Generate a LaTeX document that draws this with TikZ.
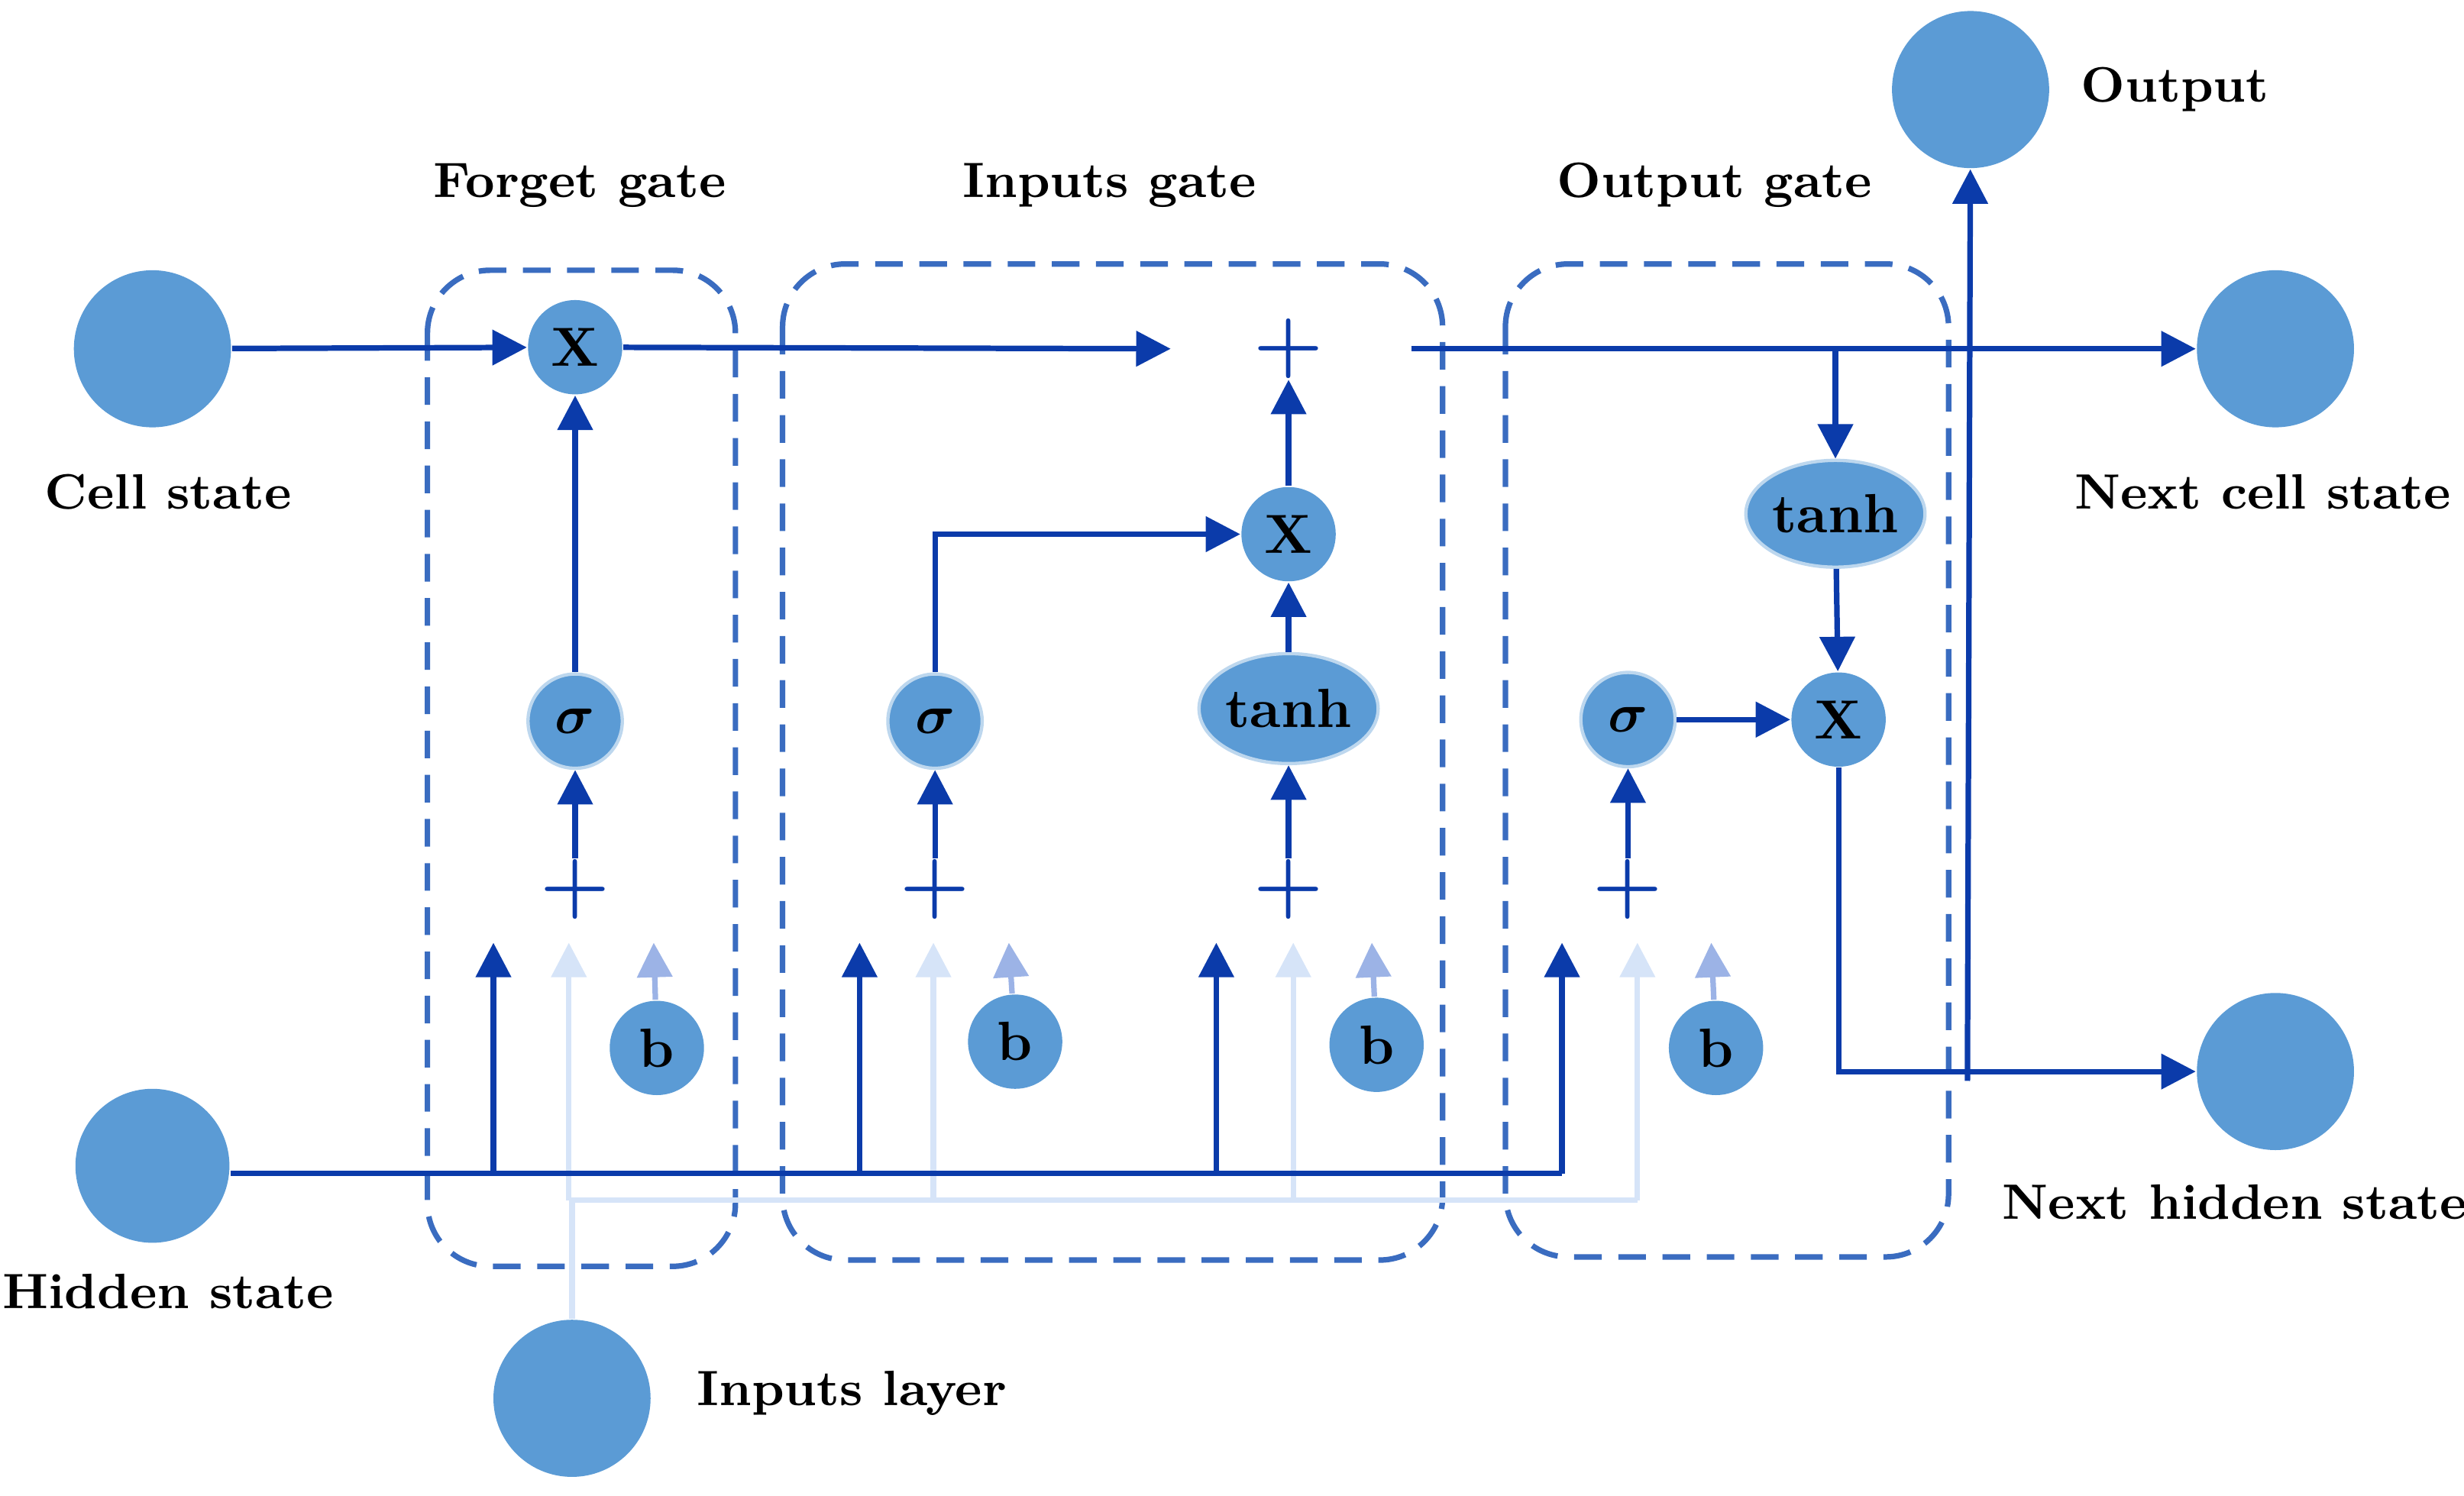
\documentclass[tikz,border=0pt]{standalone}
\usepackage{amsmath}
\usepackage{amssymb}
\usepackage{xcolor}
\usetikzlibrary{positioning,shapes.geometric,fit,arrows.meta}
\definecolor{cellblue}{HTML}{5B9BD5}
\definecolor{darkline}{HTML}{0B3BAA}
\definecolor{lightline}{HTML}{D6E4F8}
\definecolor{midline}{HTML}{9CB3E6}
\definecolor{boxline}{HTML}{3A6CC0}
\tikzset{
  unit/.style={circle,fill=cellblue,minimum size=#1,inner sep=0pt,font=\bfseries\fontsize{10}{12}\selectfont},
  unit/.default=6mm,
  act/.style={ellipse,fill=cellblue,draw=cellblue!40,line width=0.6pt,minimum width=11.4mm,minimum height=7mm,inner sep=0pt,font=\bfseries\fontsize{10}{12}\selectfont},
  lab/.style={font=\bfseries\fontsize{9}{11}\selectfont},
  gatebox/.style={draw=boxline,dashed,line width=1pt,rounded corners=4mm,dash pattern=on 5pt off 3pt},
  plus/.style={text=darkline,font=\Large\boldmath,inner sep=0pt},
  dk/.style={draw=darkline,line width=1pt,-{Triangle[length=2.2mm,width=2.2mm]}},
  lt/.style={draw=lightline,line width=1pt,-{Triangle[length=2.2mm,width=2.2mm]}},
  md/.style={draw=midline,line width=1pt,-{Triangle[length=2.2mm,width=2.2mm]}},
}
\begin{document}
\begin{tikzpicture}[x=0.1mm,y=-0.1mm]
  \useasboundingbox (0,0) rectangle (1568,952);

  % gate regions
  \draw[gatebox] (272,172) rectangle (468,806);
  \draw[gatebox] (498,168) rectangle (918,802);
  \draw[gatebox] (958,168) rectangle (1240,800);
  \node[lab] (tf) at (369,118) {Forget gate};
  \node[lab] (ti) at (706,118) {Inputs gate};
  \node[lab] (to) at (1091,118) {Output gate};

  % outer states
  \node[unit=10mm] (cs) at (97,222) {};
  \node[lab] (csl) at (107,313) {Cell state};
  \node[unit=9.8mm] (hs) at (97,742) {};
  \node[lab] (hsl) at (107,822) {Hidden state};
  \node[unit=10mm] (il) at (364,890) {};
  \node[lab] (ill) at (542,887) {Inputs layer};
  \node[unit=10mm] (out) at (1254,57) {};
  \node[lab] (outl) at (1384,57) {Output};
  \node[unit=10mm] (ncs) at (1448,222) {};
  \node[lab] (ncsl) at (1440,313) {Next cell state};
  \node[unit=10mm] (nhs) at (1448,682) {};
  \node[lab] (nhsl) at (1422,765) {Next hidden state};

  % forget gate
  \node[unit] (fx) at (366,221) {X};
  \node[unit,draw=cellblue!40,line width=0.6pt] (fs) at (366,459) {$\boldsymbol{\sigma}$};
  \node[plus] (fp) at (366,566) {$+$};
  \node[unit] (fb) at (418,667) {b};
  \coordinate (fh) at (314,600);
  \coordinate (fi) at (362,600);
  \coordinate (fbt) at (416,600);

  % inputs gate
  \node[unit,draw=cellblue!40,line width=0.6pt] (is) at (595,459) {$\boldsymbol{\sigma}$};
  \node[plus] (ip) at (595,566) {$+$};
  \node[unit] (ib) at (646,663) {b};
  \node[act] (it) at (820,451) {tanh};
  \node[plus] (ip2) at (820,566) {$+$};
  \node[unit] (ib2) at (876,665) {b};
  \node[unit] (ix) at (820,340) {X};
  \node[plus] (cp) at (820,222) {$+$};
  \coordinate (ih) at (547,600);
  \coordinate (ii) at (594,600);
  \coordinate (ibt) at (642,600);
  \coordinate (ih2) at (774,600);
  \coordinate (ii2) at (823,600);
  \coordinate (ibt2) at (873,600);

  % output gate
  \node[act,minimum height=6.8mm] (ot) at (1168,327) {tanh};
  \node[unit] (ox) at (1170,458) {X};
  \node[unit,draw=cellblue!40,line width=0.6pt] (os) at (1036,458) {$\boldsymbol{\sigma}$};
  \node[plus] (op) at (1036,566) {$+$};
  \node[unit] (ob) at (1092,667) {b};
  \coordinate (oh) at (994,600);
  \coordinate (oi) at (1042,600);
  \coordinate (obt) at (1089,600);

  % light input bus
  \draw[lightline,line width=1pt] (il.north) |- (1042,764);
  \draw[lt] (362,764) -- (fi);
  \draw[lt] (594,764) -- (ii);
  \draw[lt] (823,764) -- (ii2);
  \draw[lt] (1042,764) -- (oi);

  % hidden state bus
  \draw[darkline,line width=1pt] (hs.east |- 0,747) -- (994,747);
  \draw[dk] (314,747) -- (fh);
  \draw[dk] (547,747) -- (ih);
  \draw[dk] (774,747) -- (ih2);
  \draw[dk] (994,747) -- (oh);

  % biases
  \draw[md] (fb) -- (fbt);
  \draw[md] (ib) -- (ibt);
  \draw[md] (ib2) -- (ibt2);
  \draw[md] (ob) -- (obt);

  % inside the gates
  \draw[dk] (fp) -- (fs);
  \draw[dk] (fs) -- (fx);
  \draw[dk] (cs) -- (fx);
  \draw[dk] (ip) -- (is);
  \draw[dk] (is.north) |- (ix);
  \draw[dk] (ip2) -- (it);
  \draw[dk] (it) -- (ix);
  \draw[dk] (ix) -- (cp);
  \draw[dk] (fx) -- (745,222);
  \draw[dk] (898,222) -- (ncs);
  \draw[dk] (1168,222) -- (ot);
  \draw[dk] (ot) -- (ox);
  \draw[dk] (op) -- (os);
  \draw[dk] (os) -- (ox);
  \draw[dk] (ox.south) |- (nhs);
  \draw[dk] (1252,688) -- (out);
\end{tikzpicture}
\end{document}
